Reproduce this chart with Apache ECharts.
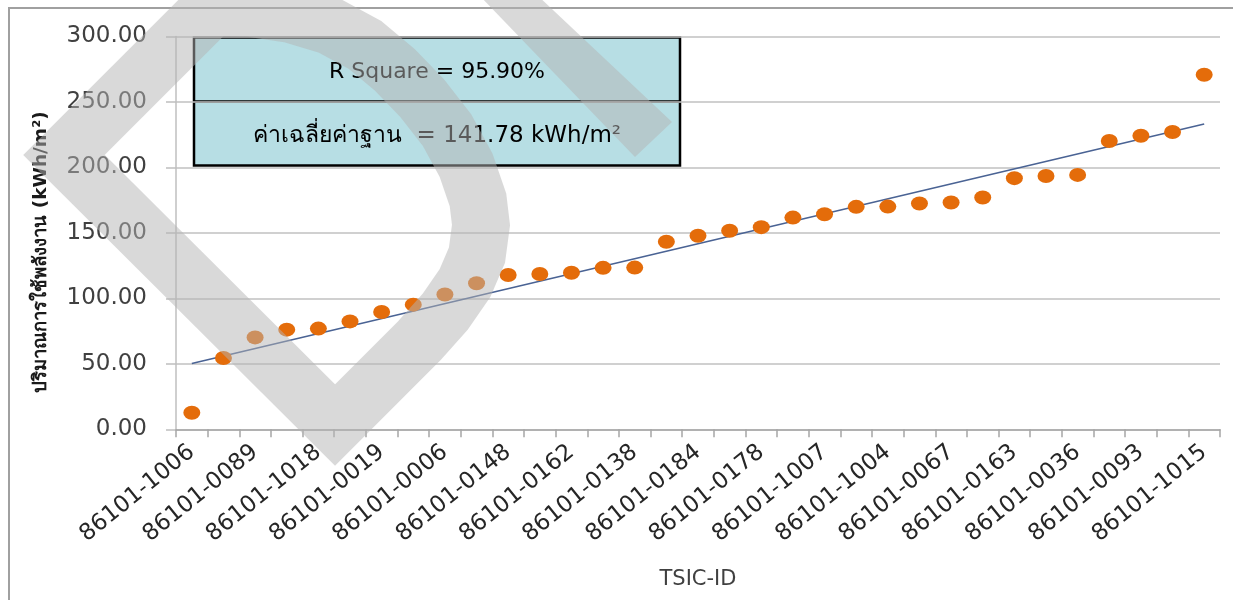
<!DOCTYPE html>
<html>
<head>
<meta charset="utf-8">
<script src="https://cdn.jsdelivr.net/npm/echarts@6/dist/echarts.min.js"></script>
<style>
  html, body { margin: 0; padding: 0; background: #ffffff; }
  #chart { width: 1233px; height: 600px; }
</style>
</head>
<body>
<div id="chart"></div>
<script>
// Building IDs (TSIC-ID), ordered by energy use intensity
const categories = [
  '86101-1006', '86101-0001', '86101-0089', '86101-0002', '86101-1018', '86101-0003',
  '86101-0019', '86101-0004', '86101-0006', '86101-0005', '86101-0148', '86101-0007',
  '86101-0162', '86101-0008', '86101-0138', '86101-0009', '86101-0184', '86101-0010',
  '86101-0178', '86101-0011', '86101-1007', '86101-0012', '86101-1004', '86101-0013',
  '86101-0067', '86101-0014', '86101-0163', '86101-0015', '86101-0036', '86101-0016',
  '86101-0093', '86101-0017', '86101-1015'
];

// Energy use intensity, kWh/m2
const energyUse = [
  12.6, 54.5, 70.2, 76.1, 76.9, 82.4, 89.6, 95.2, 103.0, 111.5, 117.8,
  118.6, 119.6, 123.3, 123.5, 143.2, 147.8, 151.6, 154.4, 161.7, 164.3,
  169.9, 170.1, 172.4, 173.2, 177.0, 191.8, 193.5, 194.3, 220.2, 224.2,
  227.1, 270.8
];

// Linear trend line values at the first and last building
const trendEnds = [50.3, 233.1];

// Y axis range and step
const yTicks = { min: 0, max: 300, step: 50 };

// Summary box text
const rSquareText = 'R Square = 95.90%';
const baselineText = 'ค่าเฉลี่ยค่าฐาน  = 141.78 kWh/m²';
const yAxisTitle = 'ปริมาณการใช้พลังงาน (kWh/m²)';
const xAxisTitle = 'TSIC-ID';

const chart = echarts.init(document.getElementById('chart'), null, { renderer: 'canvas' });

const FONT = 'DejaVu Sans, Verdana, sans-serif';
const THAI_FONT = 'Tahoma, DejaVu Sans, sans-serif';
const WM = '#b4b4b4';

// Centre line of the "D" watermark: stem, bottom bar, then the curved bow back to the top bar
const watermarkD = [
  [64, 155], [335, 425], [420, 340], [445, 312], [465, 283], [477, 255],
  [481, 225], [478, 200], [466, 165], [447, 130], [422, 98], [395, 70],
  [365, 45], [330, 26], [290, 14], [250, 8], [212, 7]
];
// Outline of the second, straight watermark stroke
const watermarkBar = [[478, -6], [536, -6], [672, 122], [635, 157]];

chart.setOption({
  backgroundColor: '#ffffff',
  animation: false,
  grid: { left: 176, right: 13, top: 36.5, bottom: 170.7, containLabel: false },
  xAxis: {
    type: 'category',
    data: categories,
    boundaryGap: true,
    name: xAxisTitle,
    nameLocation: 'middle',
    nameGap: 140,
    nameTextStyle: { fontFamily: FONT, fontSize: 21, color: '#404040' },
    axisLine: { show: true, lineStyle: { color: '#a6a6a6', width: 1.5 } },
    axisTick: { show: true, alignWithLabel: false, interval: 0, length: 8, lineStyle: { color: '#a6a6a6', width: 1.5 } },
    axisLabel: {
      interval: 1,
      rotate: 39,
      margin: 20,
      fontFamily: FONT,
      fontSize: 23,
      color: '#262626'
    },
    splitLine: { show: false }
  },
  yAxis: {
    type: 'value',
    min: yTicks.min,
    max: yTicks.max,
    interval: yTicks.step,
    axisLine: { show: true, lineStyle: { color: '#bfbfbf', width: 1.5 } },
    axisTick: { show: true, inside: false, length: 10, lineStyle: { color: '#bfbfbf', width: 1.5 } },
    axisLabel: {
      formatter: v => v.toFixed(2),
      margin: 29,
      fontFamily: FONT,
      fontSize: 23,
      color: '#404040'
    },
    splitLine: { show: true, lineStyle: { color: '#c0c0c0', width: 1.5 } }
  },
  series: [
    {
      name: 'trend',
      type: 'line',
      data: [[categories[0], trendEnds[0]], [categories[categories.length - 1], trendEnds[1]]],
      symbol: 'none',
      lineStyle: { color: '#4a6394', width: 1.6 },
      z: 3
    },
    {
      name: 'EUI',
      type: 'scatter',
      data: energyUse,
      symbol: 'circle',
      symbolSize: [17, 14],
      itemStyle: { color: '#e46c0a', opacity: 1 },
      z: 4
    }
  ],
  graphic: [
    // outer chart frame
    {
      type: 'polyline',
      shape: { points: [[9, 600], [9, 8], [1233, 8]] },
      style: { stroke: '#a0a0a0', lineWidth: 2, fill: null },
      z: 1
    },
    // y axis title
    {
      type: 'text',
      x: 41, y: 252,
      rotation: Math.PI / 2,
      style: {
        text: yAxisTitle,
        fontFamily: THAI_FONT,
        fontSize: 18.5,
        fontWeight: 'bold',
        fill: '#1a1a1a',
        align: 'center',
        verticalAlign: 'middle'
      },
      z: 10
    },
    // summary box
    {
      type: 'group',
      x: 194, y: 37.5,
      z: 20,
      children: [
        { type: 'rect', shape: { x: 0, y: 0, width: 486, height: 128 },
          style: { fill: '#b7dee4', stroke: '#000000', lineWidth: 2.5 } },
        { type: 'line', shape: { x1: 0, y1: 64, x2: 486, y2: 64 },
          style: { stroke: '#000000', lineWidth: 2.5 } },
        { type: 'text', x: 243, y: 35,
          style: { text: rSquareText, fontFamily: FONT, fontSize: 22, fill: '#000000',
                   align: 'center', verticalAlign: 'middle' } },
        { type: 'text', x: 243, y: 99,
          style: { text: baselineText, fontFamily: THAI_FONT, fontSize: 23, fill: '#000000',
                   align: 'center', verticalAlign: 'middle' } }
      ]
    },
    // translucent watermark strokes
    {
      type: 'polygon',
      z: 100,
      shape: { points: watermarkD },
      style: { fill: null, stroke: WM, lineWidth: 57.6, lineJoin: 'miter', miterLimit: 4, opacity: 0.5 }
    },
    {
      type: 'polygon',
      z: 100,
      shape: { points: watermarkBar },
      style: { fill: WM, stroke: null, opacity: 0.5 }
    }
  ]
});
</script>
</body>
</html>
